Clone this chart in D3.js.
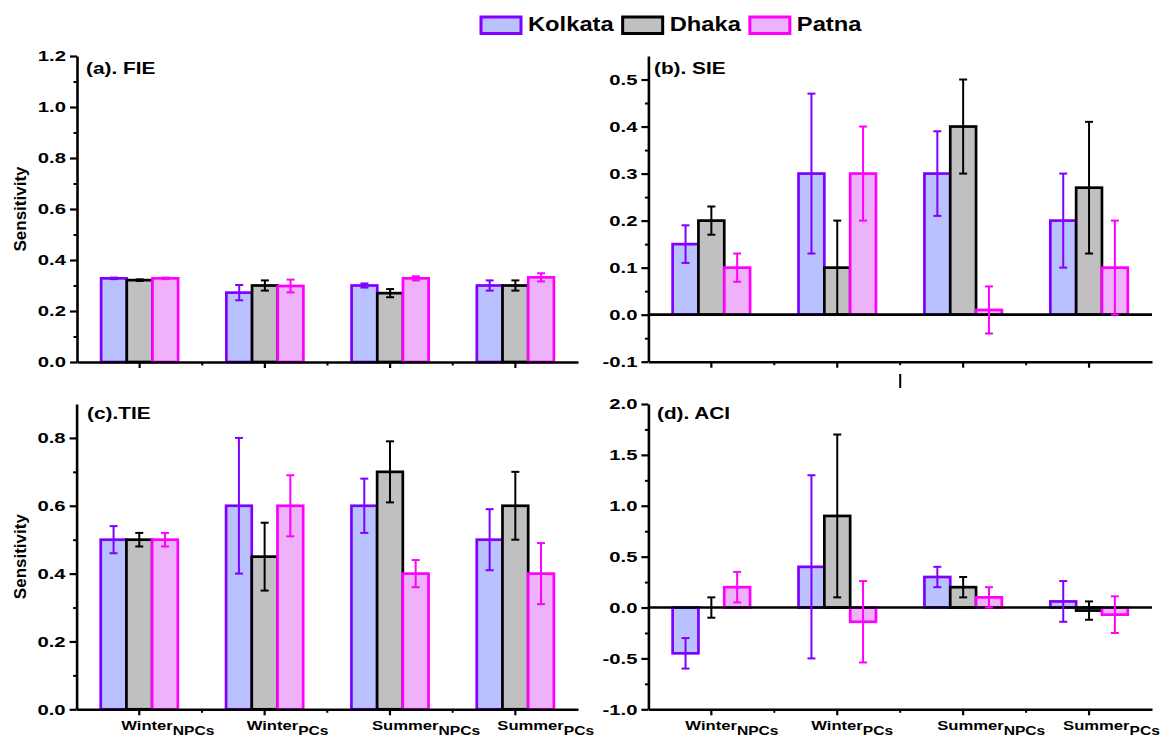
<!DOCTYPE html>
<html>
<head>
<meta charset="utf-8">
<script src="https://cdn.jsdelivr.net/npm/d3@7"></script>
<style>
  html, body { margin: 0; padding: 0; background: #fff; }
  svg { display: block; font-family: "Liberation Sans", Arial, Helvetica, sans-serif; font-weight: bold; }
</style>
</head>
<body>
<svg id="chart" width="1160" height="738"></svg>
<script>
// ---- data ----
const categories   = ["WinterNPCs", "WinterPCs", "SummerNPCs", "SummerPCs"];
const categoryMain = ["Winter", "Winter", "Summer", "Summer"];
const categorySub  = ["NPCs", "PCs", "NPCs", "PCs"];
const cities       = ["Kolkata", "Dhaka", "Patna"];

// rows follow cities (Kolkata, Dhaka, Patna); columns follow categories
const fieMeans  = [[0.328, 0.272, 0.300, 0.300], [0.321, 0.300, 0.270, 0.300], [0.328, 0.298, 0.328, 0.332]];
const fieErrors = [[0.003, 0.030, 0.008, 0.020], [0.003, 0.020, 0.016, 0.020], [0.003, 0.025, 0.008, 0.016]];

const sieMeans  = [[0.15, 0.30, 0.30, 0.20], [0.20, 0.10, 0.40, 0.27], [0.10, 0.30, 0.01, 0.10]];
const sieErrors = [[0.04, 0.17, 0.09, 0.10], [0.03, 0.10, 0.10, 0.14], [0.03, 0.10, 0.05, 0.10]];

const tieMeans  = [[0.50, 0.60, 0.60, 0.50], [0.50, 0.45, 0.70, 0.60], [0.50, 0.60, 0.40, 0.40]];
const tieErrors = [[0.04, 0.20, 0.08, 0.09], [0.02, 0.10, 0.09, 0.10], [0.02, 0.09, 0.04, 0.09]];

const aciMeans  = [[-0.45, 0.40, 0.30, 0.06], [0.00, 0.90, 0.20, -0.03], [0.20, -0.14, 0.10, -0.07]];
const aciErrors = [[0.15, 0.90, 0.10, 0.20], [0.10, 0.80, 0.10, 0.09], [0.15, 0.40, 0.10, 0.18]];

const fieTicks = [0, 0.2, 0.4, 0.6, 0.8, 1.0, 1.2];
const fieMinor = [0.1, 0.3, 0.5, 0.7, 0.9, 1.1];
const sieTicks = [-0.1, 0, 0.1, 0.2, 0.3, 0.4, 0.5];
const sieMinor = [-0.05, 0.05, 0.15, 0.25, 0.35, 0.45];
const tieTicks = [0, 0.2, 0.4, 0.6, 0.8];
const tieMinor = [0.1, 0.3, 0.5, 0.7];
const aciTicks = [-1, -0.5, 0, 0.5, 1.0, 1.5, 2.0];
const aciMinor = [-0.75, -0.25, 0.25, 0.75, 1.25, 1.75];

// ---- styling ----
const fills   = ["#b9c1ff", "#c0c0c0", "#edb2fa"];
const strokes = ["#8000ff", "#000000", "#ff00ff"];
const textScale = 1.3;

const svg = d3.select("#chart");

const panels = [
  { title: "(a). FIE", means: fieMeans, errors: fieErrors, domain: [0, 1.2],   major: fieTicks, minor: fieMinor,
    left: 77,    right: 578,  top: 56,  bottom: 362,   labelX: 86,  labelY: 74,  yTitle: true,  xLabels: false },
  { title: "(b). SIE", means: sieMeans, errors: sieErrors, domain: [-0.1, 0.55], major: sieTicks, minor: sieMinor,
    left: 648.4, right: 1152, top: 56,  bottom: 361.7, labelX: 654, labelY: 74,  yTitle: false, xLabels: false },
  { title: "(c).TIE",  means: tieMeans, errors: tieErrors, domain: [0, 0.9],   major: tieTicks, minor: tieMinor,
    left: 76.6,  right: 578,  top: 404, bottom: 709.3, labelX: 87,  labelY: 419, yTitle: true,  xLabels: true, xLabelShift: -18 },
  { title: "(d). ACI", means: aciMeans, errors: aciErrors, domain: [-1, 2],    major: aciTicks, minor: aciMinor,
    left: 648.4, right: 1152, top: 404, bottom: 709.3, labelX: 657, labelY: 419, yTitle: false, xLabels: true, xLabelShift: -26 }
];

function drawPanel(p, idx) {
  const g = svg.append("g").attr("class", "panel-" + idx);

  const x = d3.scaleBand().domain(categories).range([p.left, p.right])
    .paddingInner(0.385).paddingOuter(0.1925);
  const xs = d3.scaleBand().domain(cities).range([0, x.bandwidth()]);
  const y = d3.scaleLinear().domain(p.domain).range([p.bottom, p.top]);

  const rows = cities.map((c, ci) => categories.map((cat, k) => ({
    city: c, ci: ci, cat: cat, v: p.means[ci][k], e: p.errors[ci][k]
  })));

  // bars
  g.append("g").selectAll("g").data(rows).join("g")
    .selectAll("rect").data(d => d).join("rect")
      .attr("x", d => x(d.cat) + xs(d.city))
      .attr("width", xs.bandwidth())
      .attr("y", d => y(Math.max(0, d.v)))
      .attr("height", d => Math.abs(y(d.v) - y(0)))
      .attr("fill", d => fills[d.ci])
      .attr("stroke", d => strokes[d.ci])
      .attr("stroke-width", 2.7);

  // zero reference line for panels with negative range
  if (p.domain[0] < 0) {
    g.append("line")
      .attr("x1", p.left).attr("x2", p.right)
      .attr("y1", y(0)).attr("y2", y(0))
      .attr("stroke", "#000").attr("stroke-width", 2.6);
  }

  // error bars
  const eb = g.append("g").selectAll("g").data(rows.flat()).join("g")
    .attr("stroke", d => strokes[d.ci]).attr("stroke-width", 2);
  const cx = d => x(d.cat) + xs(d.city) + xs.bandwidth() / 2;
  eb.append("line").attr("x1", cx).attr("x2", cx)
    .attr("y1", d => y(d.v - d.e)).attr("y2", d => y(d.v + d.e));
  eb.append("line").attr("x1", d => cx(d) - 4).attr("x2", d => cx(d) + 4)
    .attr("y1", d => y(d.v + d.e)).attr("y2", d => y(d.v + d.e));
  eb.append("line").attr("x1", d => cx(d) - 4).attr("x2", d => cx(d) + 4)
    .attr("y1", d => y(d.v - d.e)).attr("y2", d => y(d.v - d.e));

  // y axis (major + minor)
  const gy = g.append("g").attr("transform", `translate(${p.left},0)`)
    .call(d3.axisLeft(y).tickValues(p.major).tickFormat(d => d.toFixed(1))
      .tickSize(7).tickSizeOuter(0).tickPadding(4))
    .attr("font-size", null).attr("font-family", null);
  gy.select(".domain").attr("stroke-width", 2.6);
  gy.selectAll(".tick line").attr("stroke-width", 2.2);
  gy.selectAll(".tick text")
    .attr("x", null)
    .attr("transform", `translate(-11,0) scale(${textScale + 0.05},1)`)
    .style("font-size", "15px").attr("fill", "#000");

  const gym = g.append("g").attr("transform", `translate(${p.left},0)`)
    .call(d3.axisLeft(y).tickValues(p.minor).tickFormat("").tickSize(3.5).tickSizeOuter(0));
  gym.select(".domain").remove();
  gym.selectAll(".tick line").attr("stroke-width", 2);

  // x axis at the bottom of the panel
  const gx = g.append("g").attr("transform", `translate(0,${p.bottom})`)
    .call(d3.axisBottom(x).tickFormat("").tickSize(6).tickSizeOuter(0));
  gx.select(".domain").attr("stroke-width", 2.6);
  gx.selectAll(".tick line").attr("stroke-width", 2.2);

  // minor x ticks on the group boundaries
  const bounds = categories.slice(1).map((c, k) =>
    (x(categories[k]) + x(c) + x.bandwidth()) / 2);
  gx.append("g").selectAll("line").data(bounds).join("line")
    .attr("x1", d => d).attr("x2", d => d)
    .attr("y1", 0).attr("y2", 3.5)
    .attr("stroke", "#000").attr("stroke-width", 2);

  // category labels with subscripts
  if (p.xLabels) {
    const lab = g.append("g").selectAll("text").data(categories).join("text")
      .attr("transform", (d, k) =>
        `translate(${x(d) + x.bandwidth() / 2 + p.xLabelShift},730) scale(${textScale},1)`)
      .attr("fill", "#000");
    lab.append("tspan").style("font-size", "12.8px").text((d, k) => categoryMain[k]);
    lab.append("tspan").style("font-size", "12px").attr("dy", 5).text((d, k) => categorySub[k]);
  }

  // panel title
  g.append("text")
    .attr("transform", `translate(${p.labelX},${p.labelY}) scale(${textScale},1)`)
    .style("font-size", "16px").attr("fill", "#000").text(p.title);

  // y axis title
  if (p.yTitle) {
    g.append("text")
      .attr("transform", `translate(25.5,${(p.top + p.bottom) / 2}) rotate(-90)`)
      .attr("text-anchor", "middle")
      .style("font-size", "17px").attr("fill", "#000").text("Sensitivity");
  }

  return { x, y };
}

const scales = panels.map(drawPanel);

// short stray tick below the SIE axis
{
  const xb = scales[1].x;
  const xm = (xb(categories[1]) + xb(categories[2]) + xb.bandwidth()) / 2;
  svg.append("line").attr("x1", xm).attr("x2", xm)
    .attr("y1", 374).attr("y2", 388)
    .attr("stroke", "#000").attr("stroke-width", 2);
}

// legend
{
  const lg = svg.append("g");
  let cx = 481;
  cities.forEach((c, ci) => {
    lg.append("rect").attr("x", cx).attr("y", 17).attr("width", 40).attr("height", 16.5)
      .attr("fill", fills[ci]).attr("stroke", strokes[ci]).attr("stroke-width", 3);
    const t = lg.append("text")
      .attr("transform", `translate(${cx + 47},30.7) scale(1.13,1)`)
      .style("font-size", "21px").attr("fill", "#000").text(c);
    const w = t.node().getComputedTextLength() * 1.13;
    cx += 47 + w + 9;
  });
}
</script>
</body>
</html>
